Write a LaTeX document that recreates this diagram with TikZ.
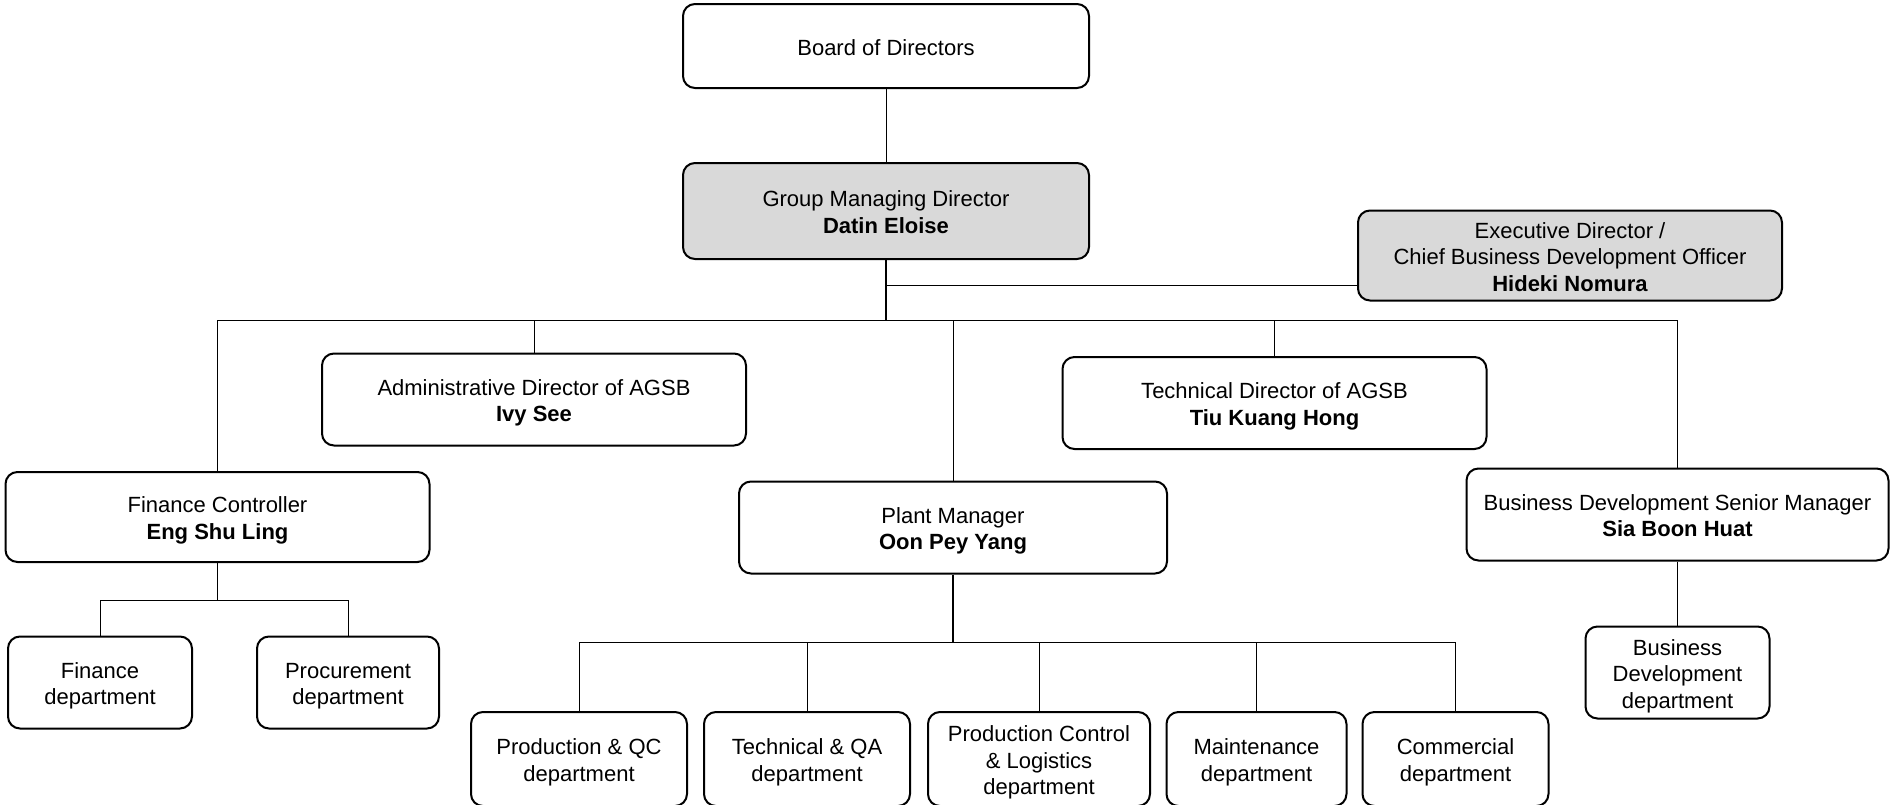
\documentclass[tikz,border=0pt]{standalone}
\usepackage{fontspec}
\setmainfont{Liberation Sans}
\definecolor{boxgray}{HTML}{D9D9D9}
\begin{document}
\begin{tikzpicture}[x=0.5pt,y=-0.5pt]
 \tikzset{post/.style={draw, rounded corners=6pt, line width=1pt, align=center, inner sep=0pt, text depth=0pt, font=\fontsize{11}{13.3}\selectfont},
  lead/.style={post, fill=boxgray},
  rows1/.style={text height=9.1pt}, rows2/.style={text height=22.4pt}, rows3/.style={text height=35.7pt},
  link/.style={line width=0.5pt}}
  \useasboundingbox (0,0) rectangle (1892,804);
  \node[post, rows1, minimum width=203pt, minimum height=42pt] (board) at (886,46) {Board of Directors};
  \node[lead, rows2, minimum width=203pt, minimum height=48pt] (gmd) at (886,211) {Group Managing Director\\\textbf{Datin Eloise}};
  \node[lead, rows3, minimum width=212pt, minimum height=45pt] (exec) at (1570,255.5) {Executive Director /\\Chief Business Development Officer\\\textbf{Hideki Nomura}};
  \node[post, rows2, minimum width=212pt, minimum height=46pt] (admin) at (534,399.5) {Administrative Director of AGSB\\\textbf{Ivy See}};
  \node[post, rows2, minimum width=212pt, minimum height=46pt] (tech) at (1274.5,403) {Technical Director of AGSB\\\textbf{Tiu Kuang Hong}};
  \node[post, rows2, minimum width=212pt, minimum height=45pt] (fc) at (217.5,517) {Finance Controller\\\textbf{Eng Shu Ling}};
  \node[post, rows2, minimum width=214pt, minimum height=46pt] (plant) at (953,527.5) {Plant Manager\\\textbf{Oon Pey Yang}};
  \node[post, rows2, minimum width=211pt, minimum height=46pt] (bdsm) at (1677.5,514.5) {Business Development Senior Manager\\\textbf{Sia Boon Huat}};
  \node[post, rows2, minimum width=92pt, minimum height=46pt] (fin) at (100,682.5) {Finance\\department};
  \node[post, rows2, minimum width=91pt, minimum height=46pt] (proc) at (348,682.5) {Procurement\\department};
  \node[post, rows3, minimum width=92pt, minimum height=46pt] (bdd) at (1677.5,672.5) {Business\\Development\\department};
  \node[post, rows2, minimum width=108pt, minimum height=47pt] (pqc) at (579,759) {Production \& QC\\department};
  \node[post, rows2, minimum width=103pt, minimum height=47pt] (tqa) at (807,759) {Technical \& QA\\department};
  \node[post, rows3, minimum width=111pt, minimum height=47pt] (pcl) at (1039,759) {Production Control\\\& Logistics\\department};
  \node[post, rows2, minimum width=90pt, minimum height=47pt] (mnt) at (1256.5,759) {Maintenance\\department};
  \node[post, rows2, minimum width=93pt, minimum height=47pt] (com) at (1455.5,759) {Commercial\\department};
  \coordinate (exj) at (886,285);
  \coordinate (bus) at (886,320);
  \coordinate (fcbus) at (217.5,600);
  \coordinate (pmbus) at (953,642);
  \draw[link] (board) -- (gmd);
  \draw[line width=1pt] (gmd) -- (bus);
  \draw[link] (exj) -- (exec.west |- exj);
  \draw[link] (fc.north) -- (fc.north |- bus) -- (bdsm.north |- bus) -- (bdsm.north);
  \draw[link] (admin.north |- bus) -- (admin.north);
  \draw[link] (plant.north |- bus) -- (plant.north);
  \draw[link] (tech.north |- bus) -- (tech.north);
  \draw[link] (fc) -- (fcbus);
  \draw[link] (fin.north) -- (fin.north |- fcbus) -- (proc.north |- fcbus) -- (proc.north);
  \draw[line width=1pt] (plant) -- (pmbus);
  \draw[link] (pqc.north) -- (pqc.north |- pmbus) -- (com.north |- pmbus) -- (com.north);
  \draw[link] (tqa.north |- pmbus) -- (tqa.north);
  \draw[link] (pcl.north |- pmbus) -- (pcl.north);
  \draw[link] (mnt.north |- pmbus) -- (mnt.north);
  \draw[link] (bdsm) -- (bdd);
\end{tikzpicture}
\end{document}
